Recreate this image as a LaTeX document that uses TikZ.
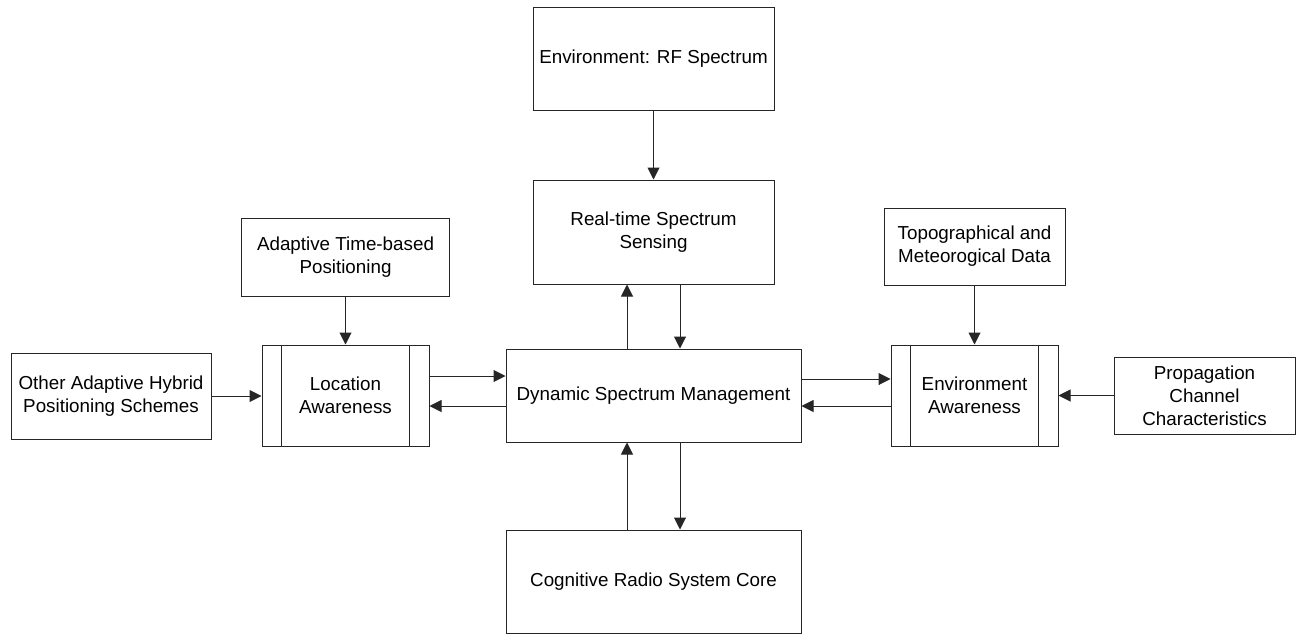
\documentclass[tikz,border=0pt]{standalone}
\usepackage{fontspec}
\setmainfont{Liberation Sans}
\usetikzlibrary{arrows.meta}
\begin{document}
\begin{tikzpicture}[x=1pt,y=-1pt,
  box/.style={draw=black!85,line width=1pt,rectangle,inner sep=0pt,align=center,
    font=\fontsize{18.8}{23}\selectfont},
  bar/.style={draw=black!85,line width=1pt},
  arr/.style={draw=black!85,line width=1pt,-{Triangle[length=12pt,width=12pt]}}]
\useasboundingbox (0,0) rectangle (1304,635);
\node[box,minimum width=241pt,minimum height=103pt] (rf) at (653.5,58.5) {Environment: RF Spectrum};
\node[box,minimum width=241pt,minimum height=104pt] (sens) at (653.5,232) {Real-time Spectrum\\Sensing};
\node[box,minimum width=208pt,minimum height=78pt] (adapt) at (345.5,257) {Adaptive Time-based\\Positioning};
\node[box,minimum width=181pt,minimum height=77pt] (topo) at (974.5,246.5) {Topographical and\\Meteorogical Data};
\node[box,minimum width=200pt,minimum height=86pt] (other) at (111,396) {Other Adaptive Hybrid\\Positioning Schemes};
\node[box,minimum width=167pt,minimum height=101pt] (loc) at (345.5,395.5) {Location\\Awareness};
\node[box,minimum width=295pt,minimum height=93pt] (dsm) at (653.5,395.5) {Dynamic Spectrum Management};
\node[box,minimum width=167pt,minimum height=101pt] (env) at (974.5,395.5) {Environment\\Awareness};
\node[box,minimum width=181pt,minimum height=77pt] (prop) at (1204.5,395.5) {Propagation\\Channel\\Characteristics};
\node[box,minimum width=295pt,minimum height=103pt] (core) at (653.5,581.5) {Cognitive Radio System Core};
% inner bars
\draw[bar] ([xshift=20pt]loc.north west) -- ([xshift=20pt]loc.south west);
\draw[bar] ([xshift=-20pt]loc.north east) -- ([xshift=-20pt]loc.south east);
\draw[bar] ([xshift=20pt]env.north west) -- ([xshift=20pt]env.south west);
\draw[bar] ([xshift=-20pt]env.north east) -- ([xshift=-20pt]env.south east);
% arrows
\draw[arr] (rf.south) -- (sens.north);
\draw[arr] ([xshift=26.5pt]sens.south) -- ([xshift=26.5pt]dsm.north);
\draw[arr] ([xshift=-26.5pt]dsm.north) -- ([xshift=-26.5pt]sens.south);
\draw[arr] (adapt.south) -- (loc.north);
\draw[arr] (topo.south) -- (env.north);
\draw[arr] (other.east) -- (other.east -| loc.west);
\draw[arr] (prop.west) -- (prop.west -| env.east);
\draw[arr] ([yshift=19.5pt]loc.east) -- ([yshift=19.5pt]dsm.west);
\draw[arr] ([yshift=-10.5pt]dsm.west) -- ([yshift=-10.5pt]loc.east);
\draw[arr] ([yshift=16.5pt]dsm.east) -- ([yshift=16.5pt]env.west);
\draw[arr] ([yshift=-10.5pt]env.west) -- ([yshift=-10.5pt]dsm.east);
\draw[arr] ([xshift=26.5pt]dsm.south) -- ([xshift=26.5pt]core.north);
\draw[arr] ([xshift=-26.5pt]core.north) -- ([xshift=-26.5pt]dsm.south);
\end{tikzpicture}
\end{document}
